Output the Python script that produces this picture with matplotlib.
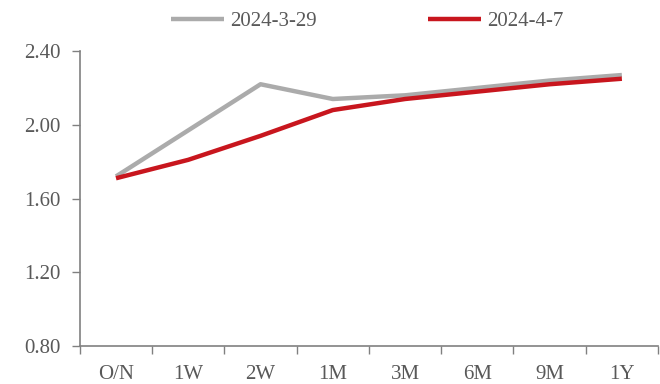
import matplotlib
matplotlib.use("Agg")
import matplotlib.pyplot as plt
import numpy as np

categories = ["O/N", "1W", "2W", "1M", "3M", "6M", "9M", "1Y"]
series_0329 = [1.72, 1.97, 2.22, 2.14, 2.16, 2.20, 2.24, 2.27]
series_0407 = [1.71, 1.81, 1.94, 2.08, 2.14, 2.18, 2.22, 2.25]
yticks = [0.80, 1.20, 1.60, 2.00, 2.40]

plt.rcParams['font.family'] = ['Liberation Serif', 'DejaVu Serif']
fig = plt.figure(figsize=(6.6, 3.84), dpi=100)
ax = fig.add_axes([0.121, 0.099, 0.876, 0.768])

x = np.arange(len(categories))
ax.plot(x, series_0329, color='#ABABAB', lw=3.2, label='2024-3-29', solid_capstyle='butt')
ax.plot(x, series_0407, color='#C8161E', lw=3.2, label='2024-4-7', solid_capstyle='butt')

ax.set_xlim(-0.5, len(categories) - 0.5)
ax.set_ylim(0.80, 2.40)
ax.set_yticks(yticks)
ax.set_yticklabels([f"{v:.2f}" for v in yticks])
ax.set_xticks(x)
ax.set_xticklabels(categories)
ax.set_xticks(np.arange(-0.5, len(categories)), minor=True)
ax.tick_params(axis='x', which='major', length=0, pad=14)
ax.tick_params(axis='x', which='minor', length=6, width=1, color='#808080', direction='out')
ax.tick_params(axis='y', length=6, width=1, color='#808080', direction='out', pad=8)
ax.tick_params(labelsize=15, labelcolor='#595959')

for s in ['top', 'right']:
    ax.spines[s].set_visible(False)
for s in ['left', 'bottom']:
    ax.spines[s].set_color('#808080')
    ax.spines[s].set_linewidth(1.2)

leg = ax.legend(loc='center', bbox_to_anchor=(0.497, 1.10), ncol=2, frameon=False,
                fontsize=15, handlelength=2.55, handletextpad=0.3, columnspacing=5.3,
                labelcolor='#595959', borderaxespad=0)

fig.savefig("out.png", dpi=100)
